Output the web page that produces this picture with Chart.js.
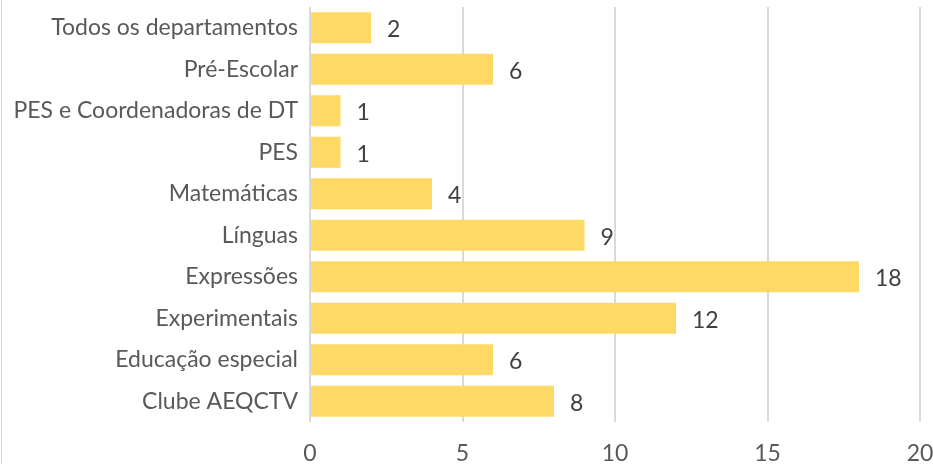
<!DOCTYPE html>
<html><head><meta charset="utf-8">
<script src="https://cdn.jsdelivr.net/npm/chart.js@4/dist/chart.umd.min.js"></script>
<style>
html,body{margin:0;padding:0;background:#fff;}
#wrap{position:relative;width:933px;height:464px;}
#edge{position:absolute;left:1px;top:0;width:1px;height:464px;background:#d9d9d9;}
</style></head>
<body><div id="wrap"><canvas id="c" width="933" height="464"></canvas><div id="edge"></div></div>
<script>
const categories = ["Todos os departamentos","Pré-Escolar","PES e Coordenadoras de DT","PES","Matemáticas","Línguas","Expressões","Experimentais","Educação especial","Clube AEQCTV"];
const values = [2,6,1,1,4,9,18,12,6,8];
const xTicks = [0,5,10,15,20];

const labelPlugin = {
  id:'vals',
  afterDatasetsDraw(chart){
    const ctx = chart.ctx;
    const meta = chart.getDatasetMeta(0);
    ctx.save();
    ctx.font = '23px Lato';
    ctx.fillStyle = '#404040';
    ctx.textAlign = 'left';
    ctx.textBaseline = 'middle';
    meta.data.forEach((bar,i)=>{
      ctx.fillText(String(values[i]), bar.x + 16, bar.y + 2);
    });
    ctx.restore();
  }
};

new Chart(document.getElementById('c'), {
  type:'bar',
  data:{labels:categories, datasets:[{data:values, backgroundColor:'#FFD966', categoryPercentage:0.75, barPercentage:1}]},
  options:{
    indexAxis:'y', responsive:false, animation:false,
    layout:{padding:{top:7,right:13,left:0,bottom:0}},
    plugins:{legend:{display:false}, tooltip:{enabled:false}},
    scales:{
      x:{min:0,max:20, afterBuildTicks(s){s.ticks = xTicks.map(v=>({value:v}));},
        grid:{color:'#d9d9d9', lineWidth:2, drawTicks:false},
        border:{display:false},
        ticks:{color:'#595959', font:{family:'Lato', size:23}, padding:18},
        afterFit(s){s.height = 42; s.paddingLeft = 0; s.paddingRight = 0;}
      },
      y:{grid:{display:false, drawTicks:false}, border:{display:false},
        ticks:{color:'#595959', font:{family:'Lato', size:23}, padding:12},
        afterFit(s){s.width = 310; s.paddingTop = 0; s.paddingBottom = 0;}
      }
    }
  },
  plugins:[labelPlugin]
});
</script></body></html>
